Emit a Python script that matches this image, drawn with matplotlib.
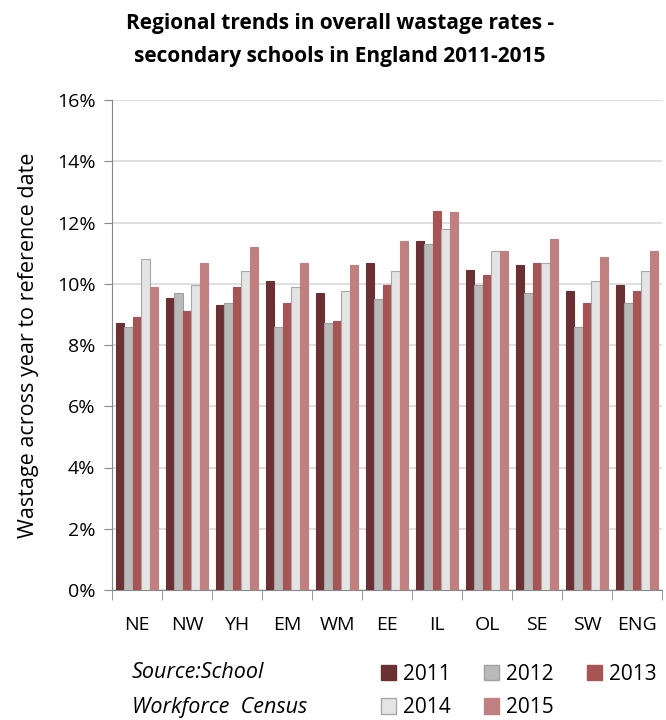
import numpy as np
import matplotlib
matplotlib.use('Agg')
import matplotlib.pyplot as plt
from matplotlib.patches import Patch

regions = ['NE', 'NW', 'YH', 'EM', 'WM', 'EE', 'IL', 'OL', 'SE', 'SW', 'ENG']
years = ['2011', '2012', '2013', '2014', '2015']
v2011 = [8.73, 9.52, 9.32, 10.10, 9.70, 10.69, 11.41, 10.44, 10.61, 9.77, 9.97]
v2012 = [8.60, 9.69, 9.37, 8.60, 8.71, 9.51, 11.29, 9.96, 9.70, 8.60, 9.38]
v2013 = [8.93, 9.12, 9.90, 9.38, 8.79, 9.97, 12.39, 10.30, 10.69, 9.38, 9.77]
v2014 = [10.81, 9.95, 10.43, 9.88, 9.76, 10.42, 11.78, 11.08, 10.67, 10.10, 10.42]
v2015 = [9.90, 10.69, 11.21, 10.69, 10.62, 11.41, 12.33, 11.08, 11.47, 10.88, 11.08]
series = [v2011, v2012, v2013, v2014, v2015]

fills = ['#6b3034', '#bababa', '#a85454', '#e4e4e4', '#c18080']
edges = ['#6b3034', '#a0a0a0', '#a85454', '#a8a8a8', '#c18080']

plt.rcParams['font.family'] = ['Open Sans', 'DejaVu Sans']

fig = plt.figure(figsize=(6.66, 7.2), dpi=100)
ax = fig.add_axes([112/666, 1 - 590/720, 550/666, 490/720])

x = np.arange(len(regions))
w = 0.168
for i, vals in enumerate(series):
    ax.bar(x + (i - 2) * w, vals, width=w, color=fills[i], edgecolor=edges[i],
           linewidth=0.8, zorder=3)

ax.set_xlim(-0.5, len(regions) - 0.5)
ax.set_ylim(0, 16)
ax.set_yticks(np.arange(0, 17, 2))
ax.set_yticklabels([f'{t}%' for t in range(0, 17, 2)], fontsize=14)
ax.set_xticks(x)
ax.set_xticklabels(regions, fontsize=14)
ax.set_xticks(np.arange(-0.5, len(regions)), minor=True)
ax.tick_params(axis='x', which='major', length=0, pad=19)
ax.tick_params(axis='x', which='minor', length=7, color='#888888', direction='out')
ax.tick_params(axis='y', length=6, color='#888888', pad=6)
ax.grid(axis='y', color='#d9d9d9', linewidth=1.2, zorder=0)
for s in ['top', 'right']:
    ax.spines[s].set_visible(False)
ax.spines['left'].set_color('#888888')
ax.spines['bottom'].set_color('#888888')

ax.set_ylabel('Wastage across year to reference date', fontsize=15.5, labelpad=13)

fig.text(340/666, 1 - 40/720, 'Regional trends in overall wastage rates -\nsecondary schools in England 2011-2015',
         ha='center', va='center', fontsize=15, fontweight='bold', linespacing=1.75)

fig.text(132/666, 1 - 672/720, 'Source:School', fontsize=15.5, style='italic', va='center')
fig.text(132/666, 1 - 707/720, 'Workforce  Census', fontsize=15.5, style='italic', va='center')

# column-major fill so rows read 2011 2012 2013 / 2014 2015
order = [0, 3, 1, 4, 2]
handles = [Patch(facecolor=fills[i], edgecolor=edges[i], label=years[i]) for i in order]
fig.legend(handles=handles, loc='center left', bbox_to_anchor=(362/666, 1 - 691/720),
           ncol=3, frameon=False, fontsize=15, handlelength=0.75, handleheight=0.75,
           handletextpad=0.3, columnspacing=1.6, labelspacing=0.6)

fig.savefig('out.png', dpi=100)
